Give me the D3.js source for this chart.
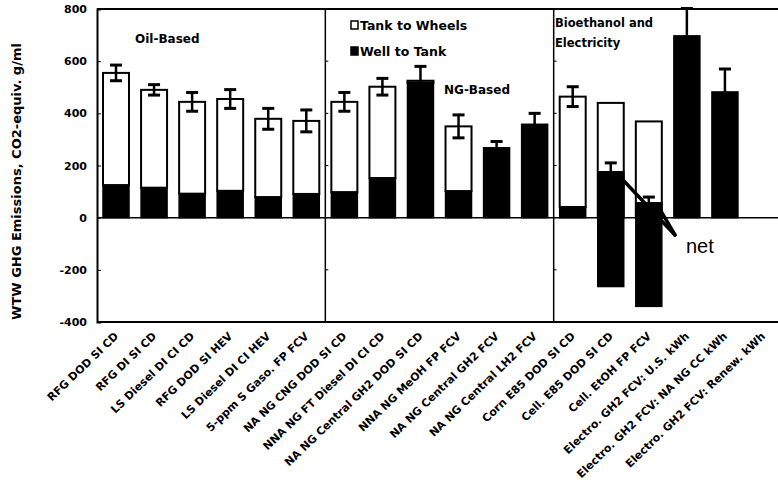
<!DOCTYPE html>
<html>
<head>
<meta charset="utf-8">
<script src="https://cdn.jsdelivr.net/npm/d3@7"></script>
<style>
  html, body { margin: 0; padding: 0; background: #fff; }
  svg { display: block; }
  text { font-family: "DejaVu Sans", "Liberation Sans", Arial, sans-serif; fill: #000; }
  .b { font-weight: bold; }
</style>
</head>
<body>
<svg id="chart" width="778" height="487"></svg>
<script>
// Pathways, well-to-wheels GHG emissions (g/ml CO2-equiv.)
const categories = [
  "RFG DOD SI CD", "RFG DI SI CD", "LS Diesel DI CI CD", "RFG DOD SI HEV",
  "LS Diesel DI CI HEV", "5-ppm S Gaso. FP FCV",
  "NA NG CNG DOD SI CD", "NNA NG FT Diesel DI CI CD", "NA NG Central GH2 DOD SI CD",
  "NNA NG MeOH FP FCV", "NA NG Central GH2 FCV", "NA NG Central LH2 FCV",
  "Corn E85 DOD SI CD", "Cell. E85 DOD SI CD", "Cell. EtOH FP FCV",
  "Electro. GH2 FCV: U.S. kWh", "Electro. GH2 FCV: NA NG CC kWh", "Electro. GH2 FCV: Renew. kWh"
];
// Well to Tank share (black)
const wellToTank = [125, 115, 92, 103, 79, 91, 98, 152, 517, 102, 268, 358, 41, -264, -340, 697, 482, 0];
// Tank to Wheels share (white)
const tankToWheels = [430, 375, 352, 352, 300, 280, 346, 350, 8, 248, 0, 0, 423, 440, 369, 0, 0, 0];
// Net total shown where Well to Tank is negative
const netTotal = [null, null, null, null, null, null, null, null, null, null, null, null, null, 176, 57, null, null, null];
// Error half-range on the total
const errorRange = [30, 20, 36, 36, 40, 42, 36, 32, 55, 44, 24, 42, 38, 34, 22, 105, 88, 0];
const groups = [
  { name: ["Oil-Based"], first: 0, last: 5 },
  { name: ["NG-Based"], first: 6, last: 11 },
  { name: ["Bioethanol and", "Electricity"], first: 12, last: 17 }
];
const yTicks = [800, 600, 400, 200, 0, -200, -400];
const legendItems = [
  { label: "Tank to Wheels", fill: "#fff" },
  { label: "Well to Tank", fill: "#000" }
];

const svg = d3.select("#chart");
const plotLeft = 97, plotTop = 9, plotBottom = 322, plotRight = 778;

const y = d3.scaleLinear().domain([-400, 800]).range([plotBottom, plotTop]);
const x = d3.scaleBand().domain(categories).range([plotLeft, 782])
  .paddingInner(0.317).paddingOuter(0.158);
const bw = x.bandwidth();

const frame = svg.append("g").attr("stroke", "#000").attr("fill", "none");
// top, bottom and zero lines
frame.append("line").attr("x1", plotLeft).attr("x2", plotRight).attr("y1", plotTop).attr("y2", plotTop).attr("stroke-width", 2);
frame.append("line").attr("x1", plotLeft).attr("x2", plotRight).attr("y1", plotBottom).attr("y2", plotBottom).attr("stroke-width", 2);
frame.append("line").attr("x1", plotLeft).attr("x2", plotRight).attr("y1", y(0)).attr("y2", y(0)).attr("stroke-width", 1.5);

// y axis
const yAxis = d3.axisLeft(y).tickValues(yTicks).tickSize(-4).tickPadding(10).tickFormat(d => String(d));
const ya = svg.append("g").attr("transform", `translate(${plotLeft},0)`).call(yAxis);
ya.select(".domain").attr("stroke-width", 2);
ya.selectAll(".tick line").attr("stroke-width", 1);
ya.selectAll(".tick text").attr("font-size", 11).attr("font-weight", "bold")
  .style("font-family", "'DejaVu Sans', sans-serif");

svg.append("text").attr("class", "b")
  .attr("transform", `translate(21,${(plotTop + plotBottom) / 2 + 16}) rotate(-90)`)
  .attr("text-anchor", "middle")
  .attr("font-size", 13)
  .text("WTW GHG Emissions, CO2-equiv. g/ml");

// group dividers
const dividers = groups.slice(1).map(g => {
  const prev = categories[g.first - 1], cur = categories[g.first];
  return (x(prev) + bw + x(cur)) / 2;
});
dividers.forEach(dx => {
  frame.append("line").attr("x1", dx).attr("x2", dx).attr("y1", plotTop).attr("y2", plotBottom).attr("stroke-width", 1.5);
  yTicks.slice(1, -1).forEach(t => {
    frame.append("line").attr("x1", dx).attr("x2", dx + 3).attr("y1", y(t)).attr("y2", y(t)).attr("stroke-width", 1);
  });
});

// bars
const rows = categories.map((c, i) => ({
  c, wtt: wellToTank[i], ttw: tankToWheels[i], net: netTotal[i], err: errorRange[i]
}));
const bars = svg.append("g");
rows.forEach(d => {
  const x0 = x(d.c);
  if (d.wtt >= 0) {
    if (d.wtt > 0) {
      bars.append("rect").attr("x", x0).attr("width", bw)
        .attr("y", y(d.wtt)).attr("height", y(0) - y(d.wtt))
        .attr("fill", "#000").attr("stroke", "#000").attr("stroke-width", 1.5);
    }
    if (d.ttw > 0) {
      bars.append("rect").attr("x", x0).attr("width", bw)
        .attr("y", y(d.wtt + d.ttw)).attr("height", y(d.wtt) - y(d.wtt + d.ttw))
        .attr("fill", "#fff").attr("stroke", "#000").attr("stroke-width", 2);
    }
  } else {
    bars.append("rect").attr("x", x0).attr("width", bw)
      .attr("y", y(d.ttw)).attr("height", y(0) - y(d.ttw))
      .attr("fill", "#fff").attr("stroke", "#000").attr("stroke-width", 2);
    bars.append("rect").attr("x", x0).attr("width", bw)
      .attr("y", y(0)).attr("height", y(d.wtt) - y(0))
      .attr("fill", "#000").attr("stroke", "#000").attr("stroke-width", 1.5);
    bars.append("rect").attr("x", x0).attr("width", bw)
      .attr("y", y(d.net)).attr("height", y(0) - y(d.net))
      .attr("fill", "#000").attr("stroke", "#000").attr("stroke-width", 1.5);
  }
});

// error bars
const eb = svg.append("g").attr("stroke", "#000").attr("stroke-width", 2.5).attr("fill", "none");
rows.forEach(d => {
  if (!d.err) return;
  const total = d.net != null ? d.net : d.wtt + d.ttw;
  const cx = x(d.c) + bw / 2;
  const hi = y(total + d.err), lo = y(total - d.err);
  eb.append("line").attr("x1", cx).attr("x2", cx).attr("y1", hi).attr("y2", lo);
  [hi, lo].forEach(v => eb.append("line").attr("x1", cx - 6).attr("x2", cx + 6).attr("y1", v).attr("y2", v).attr("stroke-width", 3));
});

// category labels
svg.append("g").selectAll("text").data(categories).join("text").attr("class", "b")
  .attr("transform", c => `translate(${x(c) + bw / 2 + 3},${plotBottom + 15}) rotate(-44)`)
  .attr("text-anchor", "end")
  .attr("font-size", 11)
  .text(c => c);

// group titles
const titlePos = [[135, 43], [444, 94], [555, 27]];
groups.forEach((g, i) => {
  const t = svg.append("text").attr("class", "b").attr("x", titlePos[i][0]).attr("y", titlePos[i][1])
    .attr("font-size", i === 2 ? 11.5 : 12);
  g.name.forEach((line, k) => t.append("tspan").attr("x", titlePos[i][0]).attr("dy", k ? 20 : 0).text(line));
});

// legend
const lg = svg.append("g").attr("transform", "translate(351,21)");
legendItems.forEach((it, i) => {
  lg.append("rect").attr("x", 0).attr("y", i * 26).attr("width", 7).attr("height", 8)
    .attr("fill", it.fill).attr("stroke", "#000").attr("stroke-width", 1.5);
  lg.append("text").attr("class", "b").attr("x", 9).attr("y", i * 26 + 9)
    .attr("font-size", 12.5).text(it.label);
});

// "net" pointers
const netLabel = { x: 686, y: 253 };
svg.append("text").attr("x", netLabel.x).attr("y", netLabel.y).attr("font-size", 20)
  .style("font-family", "'Liberation Sans', Arial, sans-serif").text("net");
const pointer = svg.append("g").attr("stroke", "#000").attr("stroke-width", 3.5).attr("fill", "none").attr("stroke-linecap", "round");
rows.filter(d => d.net != null).forEach(d => {
  pointer.append("line")
    .attr("x1", netLabel.x - 11).attr("y1", netLabel.y - 18)
    .attr("x2", x(d.c) + bw - 1).attr("y2", y(d.net) + 8);
});
</script>
</body>
</html>
